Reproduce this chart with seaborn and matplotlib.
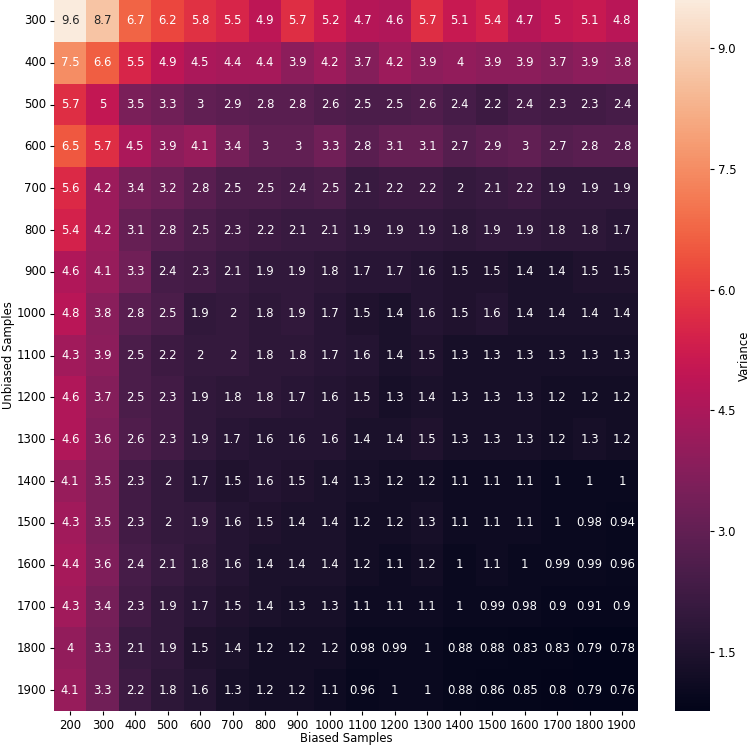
import numpy as np
import pandas as pd
import matplotlib
matplotlib.use('Agg')
import matplotlib.pyplot as plt
import seaborn as sns

biased = [200, 300, 400, 500, 600, 700, 800, 900, 1000, 1100, 1200, 1300, 1400, 1500, 1600, 1700, 1800, 1900]
unbiased = [300, 400, 500, 600, 700, 800, 900, 1000, 1100, 1200, 1300, 1400, 1500, 1600, 1700, 1800, 1900]

r300 = [9.6, 8.7, 6.7, 6.2, 5.8, 5.5, 4.9, 5.7, 5.2, 4.7, 4.6, 5.7, 5.1, 5.4, 4.7, 5, 5.1, 4.8]
r400 = [7.5, 6.6, 5.5, 4.9, 4.5, 4.4, 4.4, 3.9, 4.2, 3.7, 4.2, 3.9, 4, 3.9, 3.9, 3.7, 3.9, 3.8]
r500 = [5.7, 5, 3.5, 3.3, 3, 2.9, 2.8, 2.8, 2.6, 2.5, 2.5, 2.6, 2.4, 2.2, 2.4, 2.3, 2.3, 2.4]
r600 = [6.5, 5.7, 4.5, 3.9, 4.1, 3.4, 3, 3, 3.3, 2.8, 3.1, 3.1, 2.7, 2.9, 3, 2.7, 2.8, 2.8]
r700 = [5.6, 4.2, 3.4, 3.2, 2.8, 2.5, 2.5, 2.4, 2.5, 2.1, 2.2, 2.2, 2, 2.1, 2.2, 1.9, 1.9, 1.9]
r800 = [5.4, 4.2, 3.1, 2.8, 2.5, 2.3, 2.2, 2.1, 2.1, 1.9, 1.9, 1.9, 1.8, 1.9, 1.9, 1.8, 1.8, 1.7]
r900 = [4.6, 4.1, 3.3, 2.4, 2.3, 2.1, 1.9, 1.9, 1.8, 1.7, 1.7, 1.6, 1.5, 1.5, 1.4, 1.4, 1.5, 1.5]
r1000 = [4.8, 3.8, 2.8, 2.5, 1.9, 2, 1.8, 1.9, 1.7, 1.5, 1.4, 1.6, 1.5, 1.6, 1.4, 1.4, 1.4, 1.4]
r1100 = [4.3, 3.9, 2.5, 2.2, 2, 2, 1.8, 1.8, 1.7, 1.6, 1.4, 1.5, 1.3, 1.3, 1.3, 1.3, 1.3, 1.3]
r1200 = [4.6, 3.7, 2.5, 2.3, 1.9, 1.8, 1.8, 1.7, 1.6, 1.5, 1.3, 1.4, 1.3, 1.3, 1.3, 1.2, 1.2, 1.2]
r1300 = [4.6, 3.6, 2.6, 2.3, 1.9, 1.7, 1.6, 1.6, 1.6, 1.4, 1.4, 1.5, 1.3, 1.3, 1.3, 1.2, 1.3, 1.2]
r1400 = [4.1, 3.5, 2.3, 2, 1.7, 1.5, 1.6, 1.5, 1.4, 1.3, 1.2, 1.2, 1.1, 1.1, 1.1, 1, 1, 1]
r1500 = [4.3, 3.5, 2.3, 2, 1.9, 1.6, 1.5, 1.4, 1.4, 1.2, 1.2, 1.3, 1.1, 1.1, 1.1, 1, 0.98, 0.94]
r1600 = [4.4, 3.6, 2.4, 2.1, 1.8, 1.6, 1.4, 1.4, 1.4, 1.2, 1.1, 1.2, 1, 1.1, 1, 0.99, 0.99, 0.96]
r1700 = [4.3, 3.4, 2.3, 1.9, 1.7, 1.5, 1.4, 1.3, 1.3, 1.1, 1.1, 1.1, 1, 0.99, 0.98, 0.9, 0.91, 0.9]
r1800 = [4, 3.3, 2.1, 1.9, 1.5, 1.4, 1.2, 1.2, 1.2, 0.98, 0.99, 1, 0.88, 0.88, 0.83, 0.83, 0.79, 0.78]
r1900 = [4.1, 3.3, 2.2, 1.8, 1.6, 1.3, 1.2, 1.2, 1.1, 0.96, 1, 1, 0.88, 0.86, 0.85, 0.8, 0.79, 0.76]

cbar_ticks = [1.5, 3.0, 4.5, 6.0, 7.5, 9.0]

rows = [r300, r400, r500, r600, r700, r800, r900, r1000, r1100, r1200,
        r1300, r1400, r1500, r1600, r1700, r1800, r1900]
df = pd.DataFrame(rows, index=unbiased, columns=biased)

fs = 8.4
plt.rcParams['font.size'] = fs

fig = plt.figure(figsize=(7.5, 7.47), dpi=100)
ax = fig.add_axes([0.072, 0.048, 0.779, 0.952])
cax = fig.add_axes([0.9, 0.048, 0.0467, 0.952])

sns.heatmap(df, annot=True, annot_kws={'fontsize': fs}, ax=ax, cbar_ax=cax,
            cbar_kws={'ticks': cbar_ticks, 'format': '%.1f'})
ax.set_xlabel('Biased Samples', fontsize=fs, labelpad=0)
ax.set_ylabel('Unbiased Samples', fontsize=fs, labelpad=1)
ax.tick_params(axis='y', rotation=0, labelsize=fs, length=2.9, pad=2.5)
ax.tick_params(axis='x', rotation=0, labelsize=fs, length=2.9, pad=2.5)
cax.tick_params(labelsize=fs, length=2.9, pad=2.5)
cax.set_ylabel('Variance', fontsize=fs, labelpad=1)

fig.savefig('out.png', dpi=100)
